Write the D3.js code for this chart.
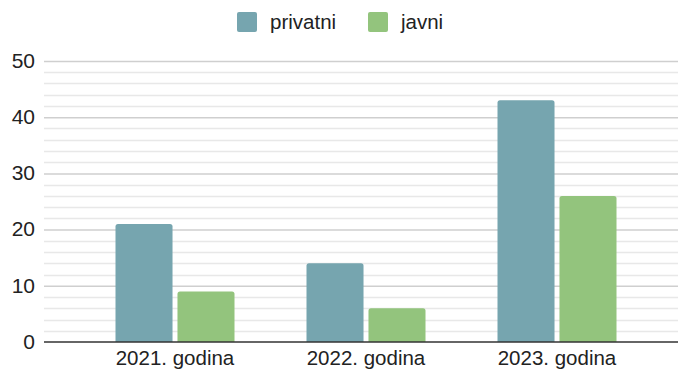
<!DOCTYPE html>
<html><head><meta charset="utf-8">
<script src="https://cdn.jsdelivr.net/npm/d3@7"></script>
<style>body{margin:0;background:#fff}svg{display:block;font-family:"Liberation Sans",Arial,sans-serif}</style>
</head><body><svg id="c" width="678" height="372"></svg>
<script>
const categories = ["2021. godina", "2022. godina", "2023. godina"];
const seriesNames = ["privatni", "javni"];
const privatni = [21, 14, 43];
const javni = [9, 6, 26];
const yTicks = [0, 10, 20, 30, 40, 50];
const colors = ["#76a5af", "#93c47d"];

const svg = d3.select("#c");
const plotL = 44, plotR = 678, plotTop = 61, plotBottom = 342;
const y = d3.scaleLinear().domain([0, 50]).range([plotBottom, plotTop]);
const x0 = d3.scaleBand().domain(categories).range([79.5, 652.5]).paddingInner(0);
const x1 = d3.scaleBand().domain(seriesNames).range([0, 119]).paddingInner(0.08);

// minor grid
const minor = d3.range(0, 51, 2).filter(v => v % 10 !== 0);
svg.append("g").selectAll("line").data(minor).join("line")
  .attr("x1", plotL).attr("x2", plotR)
  .attr("y1", d => Math.round(y(d)) + 0.5).attr("y2", d => Math.round(y(d)) + 0.5)
  .attr("stroke", "#e8e8e8").attr("stroke-width", 1.5);

// major grid via axis
const yAxis = d3.axisLeft(y).tickValues(yTicks).tickSize(-(plotR - plotL)).tickPadding(9);
const gy = svg.append("g").attr("transform", `translate(${plotL},0)`).call(yAxis);
gy.select(".domain").remove();
gy.selectAll(".tick line").attr("stroke", d => d === 0 ? "none" : "#cfcfcf").attr("stroke-width", 1.5);
gy.selectAll(".tick text").attr("font-size", 21).attr("fill", "#222").attr("x", -9).attr("dy", "0.3em");

// bars
const data = categories.map((c, i) => ({c, vals: [privatni[i], javni[i]]}));
const groups = svg.append("g").selectAll("g").data(data).join("g")
  .attr("transform", d => `translate(${x0(d.c) + x0.bandwidth()/2 - 59.5},0)`);
groups.selectAll("path").data(d => d.vals.map((v, j) => ({s: seriesNames[j], v, j}))).join("path")
  .attr("fill", d => colors[d.j])
  .attr("d", d => {
    const xa = x1(d.s), w = x1.bandwidth(), yt = y(d.v), yb = y(0), r = 2.5;
    return `M${xa},${yb}V${yt + r}Q${xa},${yt} ${xa + r},${yt}H${xa + w - r}Q${xa + w},${yt} ${xa + w},${yt + r}V${yb}Z`;
  });

// baseline
svg.append("line").attr("x1", plotL).attr("x2", plotR).attr("y1", y(0)).attr("y2", y(0))
  .attr("stroke", "#333").attr("stroke-width", 1.5);

// x axis labels
const xAxis = d3.axisBottom(x0).tickSize(0).tickPadding(8);
const gx = svg.append("g").attr("transform", `translate(0,${plotBottom})`).call(xAxis);
gx.select(".domain").remove();
gx.selectAll(".tick text").attr("font-size", 20.5).attr("fill", "#222");

// legend
const legendX = [237, 368];
const lg = svg.append("g").selectAll("g").data(seriesNames).join("g")
  .attr("transform", (d, i) => `translate(${legendX[i]},12)`);
lg.append("rect").attr("width", 20).attr("height", 20).attr("rx", 2).attr("fill", (d, i) => colors[i]);
lg.append("text").attr("x", 33).attr("y", 17).attr("font-size", 20.5).attr("fill", "#222").text(d => d);
</script></body></html>
